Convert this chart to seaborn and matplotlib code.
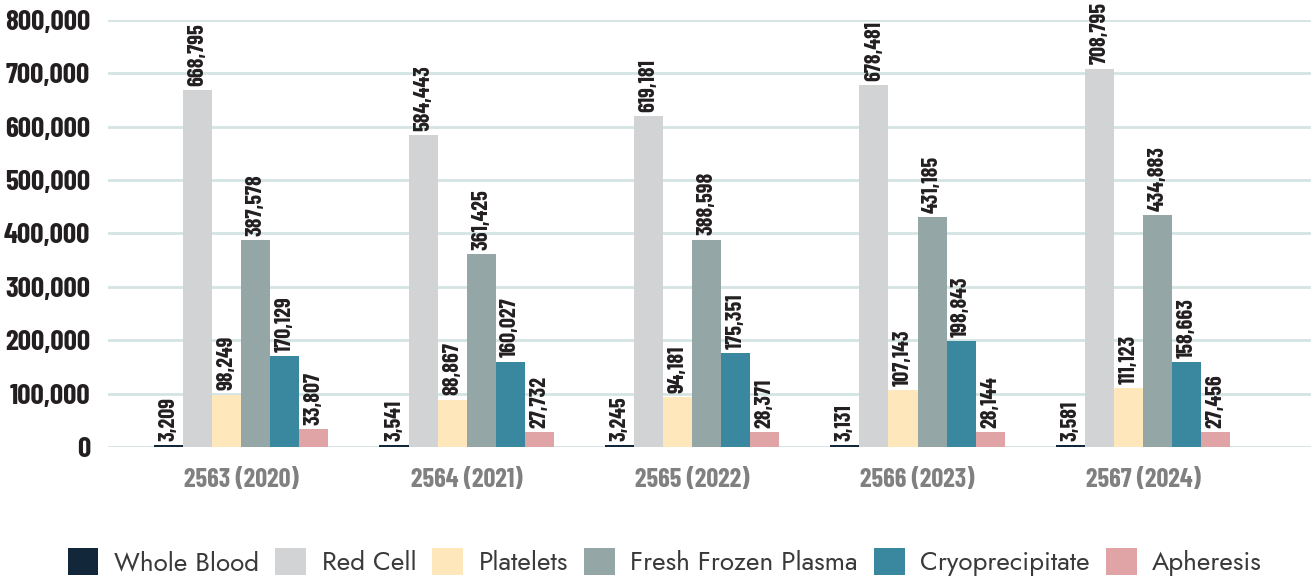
import matplotlib
matplotlib.use("Agg")
import matplotlib.pyplot as plt
import seaborn as sns
import pandas as pd
from matplotlib.ticker import FuncFormatter, MultipleLocator

# Blood component production by fiscal year
years = ["2563 (2020)", "2564 (2021)", "2565 (2022)", "2566 (2023)", "2567 (2024)"]
components = ["Whole Blood", "Red Cell", "Platelets", "Fresh Frozen Plasma",
              "Cryoprecipitate", "Apheresis"]
whole_blood = [3209, 3541, 3245, 3131, 3581]
red_cell = [668795, 584443, 619181, 678481, 708795]
platelets = [98249, 88867, 94181, 107143, 111123]
fresh_frozen_plasma = [387578, 361425, 388598, 431185, 434883]
cryoprecipitate = [170129, 160027, 175351, 198843, 158663]
apheresis = [33807, 27732, 28371, 28144, 27456]

series = [whole_blood, red_cell, platelets, fresh_frozen_plasma,
          cryoprecipitate, apheresis]
colors = ["#12283a", "#d1d3d4", "#fde7bb", "#94a6a5", "#3a88a0", "#e1a4a6"]

rows = []
for comp, vals in zip(components, series):
    for yr, v in zip(years, vals):
        rows.append({"Year": yr, "Component": comp, "Units": v})
df = pd.DataFrame(rows)

sns.set_theme(style="white")
narrow = ["Barlow Condensed", "DejaVu Sans"]
plt.rcParams["font.family"] = narrow

fig = plt.figure(figsize=(13.14, 5.84), dpi=100)
ax = fig.add_axes([0.0822, 0.2346, 0.9155, 0.7312])

sns.barplot(data=df, x="Year", y="Units", hue="Component",
            hue_order=components, order=years, palette=colors,
            width=0.772, gap=0, saturation=1, linewidth=0,
            ax=ax)

handles, labels = ax.get_legend_handles_labels()
if ax.get_legend() is not None:
    ax.get_legend().remove()

# value labels above each bar
for cont, vals in zip(ax.containers, series):
    ax.bar_label(cont, labels=[f"{v:,}" for v in vals], rotation=90,
                 padding=3, fontsize=16, fontweight="bold", color="#231f20",
                 family=narrow)

ax.set_ylim(0, 800000)
ax.set_xlim(-0.59, 4.745)
ax.yaxis.set_major_locator(MultipleLocator(100000))
ax.yaxis.set_major_formatter(FuncFormatter(lambda v, p: f"{int(v):,}"))
ax.grid(axis="y", color="#d4e4e3", linewidth=2)
ax.set_axisbelow(True)
for s in ax.spines.values():
    s.set_visible(False)

ax.set_xlabel("")
ax.set_ylabel("")
ax.tick_params(axis="y", length=0, pad=13, labelsize=21, labelcolor="#231f20")
ax.tick_params(axis="x", length=0, pad=15, labelsize=19, labelcolor="#808080")
for t in ax.get_yticklabels() + ax.get_xticklabels():
    t.set_fontweight("bold")
    t.set_family(narrow)

fig.legend(handles, labels, loc="center", bbox_to_anchor=(0.506, 0.037),
           ncol=6, frameon=False, handlelength=1.17, handleheight=1.17,
           handletextpad=0.6, columnspacing=0.62,
           prop={"family": ["Jost", "Questrial", "Didact Gothic", "Poppins",
                            "Lato", "DejaVu Sans"],
                 "weight": 300, "size": 18.8},
           labelcolor="#3a3a3a")

fig.savefig("out.png", dpi=100, facecolor="white")
